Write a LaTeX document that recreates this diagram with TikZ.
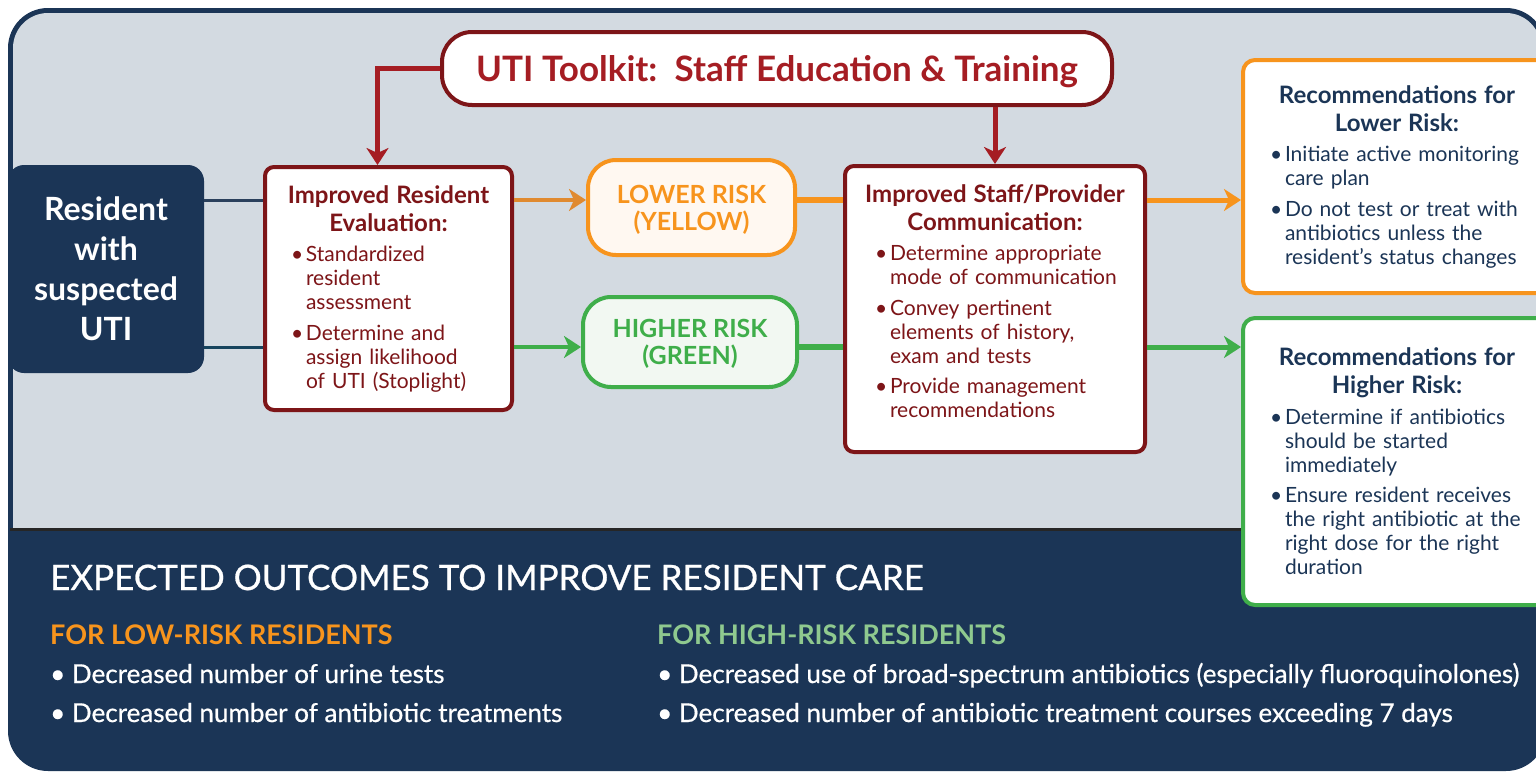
\documentclass[tikz,border=0pt]{standalone}
\usepackage{fontspec}
\setmainfont{Lato}
\newfontfamily\outfont{Lato}[FakeBold=0.7]
\usetikzlibrary{arrows.meta, positioning}
\usepackage{xcolor}

\definecolor{navy}{HTML}{1B3556}
\definecolor{panelgray}{HTML}{D3DAE1}
\definecolor{boxred}{HTML}{7D1518}
\definecolor{toolred}{HTML}{A51D23}
\definecolor{riskorange}{HTML}{F7941D}
\definecolor{arroworange}{HTML}{E08A30}
\definecolor{riskgreen}{HTML}{3FAE4A}
\definecolor{lightgreen}{HTML}{8FC98F}
\definecolor{creamfill}{HTML}{FFF8F1}
\definecolor{mintfill}{HTML}{F2F8F2}

% heading and bullet lines inside the boxes
\newcommand{\boxhead}[2]{\vspace*{2pt}{\bfseries\fontsize{24}{26}\selectfont
  \noindent\makebox[\linewidth]{#1}\par\noindent\makebox[\linewidth]{#2}\par}}
\newcommand{\bpt}[1]{\par\addvspace{6.5pt}\hyphenpenalty=10000\rightskip=-40pt plus 1fil
  \hangindent=15pt\hangafter=1\noindent\makebox[15pt][l]{\textbullet}#1\par}

\begin{document}
\begin{tikzpicture}[x=1pt,y=-1pt,node distance=100pt,on grid,
    >={Stealth[length=17pt,width=22pt,inset=5pt]}]
    \tikzstyle{textbox}=[shape=rectangle,draw=boxred,line width=4pt,fill=white,rounded corners=9pt,
      text=boxred,font=\fontsize{21}{24}\selectfont,align=left]
    \tikzstyle{risk}=[shape=rectangle,line width=4pt,rounded corners=28pt,align=center,text depth=0pt,
      font=\bfseries\fontsize{25}{27}\selectfont]
    \tikzstyle{recbox}=[shape=rectangle,line width=4pt,fill=white,rounded corners=12pt,
      text=navy,font=\fontsize{21}{24}\selectfont,align=left,minimum width=308pt,
      text width=254pt,inner xsep=27pt]
    \tikzstyle{outtext}=[anchor=base west,inner sep=0pt,font=\outfont\fontsize{26}{28}\selectfont]

    \useasboundingbox (0,0) rectangle (1536,771);
    \clip (0,0) rectangle (1536,771);

    % frame and panels
    \fill[navy,rounded corners=40pt] (8,8) rectangle (1546,771);
    \begin{scope}
      \clip (0,0) rectangle (1600,528);
      \fill[panelgray,rounded corners=35pt] (13,13) rectangle (1541,600);
    \end{scope}
    \draw[black!85,line width=3pt] (10,529.5) -- (1546,529.5);

    \node[textbox,text width=195pt,inner xsep=26pt,minimum height=243pt] (Eval) at (388.5,288.5)
      {\boxhead{Improved Resident}{Evaluation:}
       \bpt{Standardized\newline resident\newline assessment}
       \bpt{Determine and\newline assign likelihood\newline of UTI (Stoplight)}};
    \node[shape=rectangle,fill=navy,rounded corners=16pt,minimum width=196pt,minimum height=208pt,
      text=white,align=center,font=\bfseries\fontsize{32}{40}\selectfont,left=282.5pt of Eval,yshift=19.5pt]
      (Res) {Resident\\with\\suspected\\UTI};
    \node[risk,draw=riskorange,fill=creamfill,text=riskorange,minimum width=207pt,minimum height=95pt]
      (Low) at (691.5,207.5) {LOWER RISK\\(YELLOW)};
    \node[risk,draw=riskgreen,fill=mintfill,text=riskgreen,minimum width=214pt,minimum height=90pt,
      below=134.5pt of Low,xshift=-1.5pt] (High) {HIGHER RISK\\(GREEN)};
    \node[textbox,text width=240pt,inner xsep=30pt,minimum height=286pt] (Comm) at (995,309)
      {\boxhead{Improved Staff/Provider}{Communication:}
       \bpt{Determine appropriate\newline mode of communication}
       \bpt{Convey pertinent\newline elements of history,\newline exam and tests}
       \bpt{Provide management\newline recommendations}\vspace{16pt}};
    \node[shape=rectangle,draw=boxred,line width=4pt,fill=white,rounded corners=30pt,text depth=0pt,
      minimum width=670pt,minimum height=73pt,text=toolred,font=\bfseries\fontsize{35}{36}\selectfont]
      (Tool) at (777,68.5) {UTI Toolkit:\, Staff Education \& Training};
    \node[recbox,draw=riskorange,minimum height=233pt] (RecL) at (1397,176.5)
      {\boxhead{Recommendations for}{Lower Risk:}
       \bpt{Initiate active monitoring\newline care plan}
       \bpt{Do not test or treat with\newline antibiotics unless the\newline resident’s status changes}};
    \node[recbox,draw=riskgreen,minimum height=287pt,below=285pt of RecL] (RecH)
      {\boxhead{Recommendations for}{Higher Risk:}
       \bpt{Determine if antibiotics\newline should be started\newline immediately}
       \bpt{Ensure resident receives\newline the right antibiotic at the\newline right dose for the right\newline duration}};

    % connectors
    \coordinate (lo) at (0,200);
    \coordinate (hi) at (0,347);
    \draw[line width=3pt,navy!85!gray] (Res.east |- lo) -- (Eval.west |- lo);
    \draw[line width=3pt,navy!80!teal] (Res.east |- hi) -- (Eval.west |- hi);
    \draw[->,line width=4pt,arroworange] (Eval.east |- lo) -- (Low.west |- lo);
    \draw[->,line width=4pt,riskgreen] (Eval.east |- hi) -- (High.west |- hi);
    \draw[line width=6pt,riskorange] (Low.east |- lo) -- (Comm.west |- lo);
    \draw[line width=6pt,riskgreen] (High.east |- hi) -- (Comm.west |- hi);
    \draw[->,line width=5pt,riskorange] (Comm.east |- lo) -- (RecL.west |- lo);
    \draw[->,line width=5pt,riskgreen] (Comm.east |- hi) -- (RecH.west |- hi);
    \draw[->,line width=5pt,toolred] (Tool.west) -| ([xshift=-11pt]Eval.north);
    \draw[->,line width=5pt,toolred] (Tool.south -| Comm.north) -- (Comm.north);

    % outcomes panel
    \node[outtext,text=white,font=\outfont\fontsize{35}{38}\selectfont] (Outc) at (50,590)
      {EXPECTED OUTCOMES TO IMPROVE RESIDENT CARE};
    \node[outtext,text=riskorange,font=\bfseries\fontsize{27}{30}\selectfont] (LowHead) at (50,644)
      {FOR LOW-RISK RESIDENTS};
    \node[outtext,text=white] (LowA) at (50,683) {\textbullet\ Decreased number of urine tests};
    \node[outtext,text=white] (LowB) at (50,722) {\textbullet\ Decreased number of antibiotic treatments};
    \node[outtext,text=lightgreen,font=\bfseries\fontsize{27}{30}\selectfont] (HighHead) at (657,644)
      {FOR HIGH-RISK RESIDENTS};
    \node[outtext,text=white] (HighA) at (657,683)
      {\textbullet\ Decreased use of broad-spectrum antibiotics (especially fluoroquinolones)};
    \node[outtext,text=white] (HighB) at (657,722)
      {\textbullet\ Decreased number of antibiotic treatment courses exceeding 7 days};
\end{tikzpicture}
\end{document}
